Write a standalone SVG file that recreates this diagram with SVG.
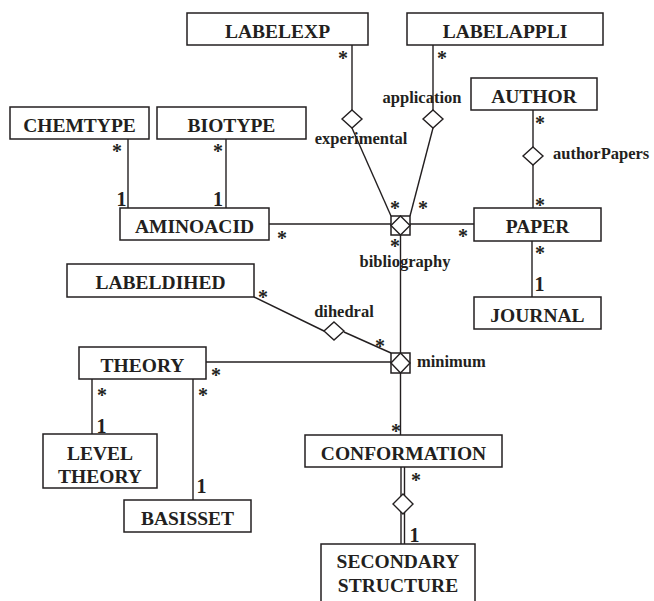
<svg xmlns="http://www.w3.org/2000/svg" width="654" height="601" viewBox="0 0 654 601">
<style>
.box{fill:#fff;stroke:#231f20;stroke-width:1.5}
.bt{font-family:"Liberation Serif","Times New Roman",serif;font-weight:bold;font-size:19.5px;fill:#231f20;text-anchor:middle}
.ln{fill:none;stroke:#231f20;stroke-width:1.4}
.dm{fill:#fff;stroke:#231f20;stroke-width:1.4}
.lb{font-family:"Liberation Serif","Times New Roman",serif;font-weight:bold;font-size:16.5px;fill:#231f20}
.m{font-family:"Liberation Serif","Times New Roman",serif;font-weight:bold;font-size:20px;fill:#231f20;text-anchor:middle}
.one{font-family:"Liberation Serif","Times New Roman",serif;font-weight:bold;font-size:20px;fill:#231f20;text-anchor:middle}
</style>
<rect width="654" height="601" fill="#fff"/>
<g id="connectors">
<line class="ln" x1="128" y1="139" x2="128" y2="208"/>
<line class="ln" x1="226" y1="139" x2="226" y2="208"/>
<line class="ln" x1="269" y1="224" x2="391" y2="224"/>
<line class="ln" x1="352" y1="45" x2="352" y2="110"/>
<line class="ln" x1="352" y1="128" x2="391" y2="216"/>
<line class="ln" x1="433" y1="45" x2="433" y2="110"/>
<line class="ln" x1="433" y1="128" x2="410" y2="216"/>
<line class="ln" x1="533" y1="110" x2="533" y2="147"/>
<line class="ln" x1="533" y1="165" x2="533" y2="208"/>
<line class="ln" x1="410" y1="224" x2="474" y2="224"/>
<line class="ln" x1="532" y1="241" x2="532" y2="297"/>
<line class="ln" x1="400.5" y1="235" x2="400.5" y2="353"/>
<line class="ln" x1="254" y1="297" x2="324" y2="331"/>
<line class="ln" x1="344" y1="332" x2="391" y2="353"/>
<line class="ln" x1="206" y1="362" x2="391" y2="362"/>
<line class="ln" x1="400.5" y1="373" x2="400.5" y2="435"/>
<line class="ln" x1="92" y1="379" x2="92" y2="434"/>
<line class="ln" x1="193" y1="379" x2="193" y2="500"/>
<line class="ln" x1="401" y1="467" x2="401" y2="496"/>
<line class="ln" x1="404.5" y1="467" x2="404.5" y2="496"/>
<line class="ln" x1="401" y1="512" x2="401" y2="544"/>
<line class="ln" x1="404.5" y1="512" x2="404.5" y2="544"/>
<polygon class="dm" points="352,110 362,119 352,128 342,119"/>
<polygon class="dm" points="433,110 443,119 433,128 423,119"/>
<polygon class="dm" points="533,147 543,156 533,165 523,156"/>
<polygon class="dm" points="334,322 344,331 334,340 324,331"/>
<polygon class="dm" points="403,494 413,504 403,514 393,504"/>
<g id="bibliography">
<rect class="box" x="391" y="216" width="19" height="19"/>
<polygon class="dm" points="400.5,216 410,225.5 400.5,235 391,225.5"/>
</g>
<g id="minimum">
<rect class="box" x="391" y="353" width="19" height="20"/>
<polygon class="dm" points="400.5,353 410,363 400.5,373 391,363"/>
</g>
<text class="lb" x="361" y="144" text-anchor="middle">experimental</text>
<text class="lb" x="422" y="103" text-anchor="middle">application</text>
<text class="lb" x="553" y="159">authorPapers</text>
<text class="lb" x="405" y="267" text-anchor="middle">bibliography</text>
<text class="lb" x="344" y="317" text-anchor="middle">dihedral</text>
<text class="lb" x="417" y="367">minimum</text>
<text class="m" x="343" y="65">*</text>
<text class="m" x="442" y="65">*</text>
<text class="m" x="540" y="130">*</text>
<text class="m" x="540" y="212">*</text>
<text class="m" x="395" y="215">*</text>
<text class="m" x="423" y="215">*</text>
<text class="m" x="395" y="253">*</text>
<text class="m" x="463" y="243">*</text>
<text class="m" x="540" y="260">*</text>
<text class="m" x="117" y="158">*</text>
<text class="m" x="218" y="158">*</text>
<text class="m" x="282" y="245">*</text>
<text class="m" x="263" y="304">*</text>
<text class="m" x="216" y="382">*</text>
<text class="m" x="102" y="402">*</text>
<text class="m" x="203" y="402">*</text>
<text class="m" x="380" y="353">*</text>
<text class="m" x="396" y="438">*</text>
<text class="m" x="416" y="487">*</text>
<text class="one" x="121.5" y="206">1</text>
<text class="one" x="218" y="206">1</text>
<text class="one" x="539.5" y="291">1</text>
<text class="one" x="101.5" y="433">1</text>
<text class="one" x="201.5" y="493">1</text>
<text class="one" x="414.5" y="542">1</text>
</g>
<g id="LABELEXP"><rect class="box" x="187" y="13" width="181" height="32"/><text class="bt" x="277.5" y="38">LABELEXP</text></g>
<g id="LABELAPPLI"><rect class="box" x="407" y="13" width="196" height="32"/><text class="bt" x="505" y="38">LABELAPPLI</text></g>
<g id="AUTHOR"><rect class="box" x="471" y="78" width="126" height="32"/><text class="bt" x="534" y="103">AUTHOR</text></g>
<g id="CHEMTYPE"><rect class="box" x="10" y="107" width="139" height="32"/><text class="bt" x="79.5" y="132">CHEMTYPE</text></g>
<g id="BIOTYPE"><rect class="box" x="157" y="107" width="149" height="32"/><text class="bt" x="231.5" y="132">BIOTYPE</text></g>
<g id="AMINOACID"><rect class="box" x="120" y="208" width="149" height="32"/><text class="bt" x="194.5" y="233">AMINOACID</text></g>
<g id="PAPER"><rect class="box" x="474" y="208" width="127" height="33"/><text class="bt" x="537.5" y="233">PAPER</text></g>
<g id="JOURNAL"><rect class="box" x="474" y="297" width="127" height="32"/><text class="bt" x="537.5" y="322">JOURNAL</text></g>
<g id="LABELDIHED"><rect class="box" x="67" y="264" width="187" height="33"/><text class="bt" x="160.5" y="289">LABELDIHED</text></g>
<g id="THEORY"><rect class="box" x="79" y="347" width="127" height="32"/><text class="bt" x="142.5" y="372">THEORY</text></g>
<g id="LEVELTHEORY"><rect class="box" x="43" y="434" width="114" height="54"/><text class="bt" x="100" y="460">LEVEL</text><text class="bt" x="100" y="483">THEORY</text></g>
<g id="BASISSET"><rect class="box" x="124" y="500" width="127" height="32"/><text class="bt" x="187.5" y="525">BASISSET</text></g>
<g id="CONFORMATION"><rect class="box" x="305" y="435" width="197" height="32"/><text class="bt" x="403.5" y="460">CONFORMATION</text></g>
<g id="SECONDARYSTRUCTURE"><rect class="box" x="321" y="544" width="154" height="70"/><text class="bt" x="398" y="568">SECONDARY</text><text class="bt" x="398" y="592">STRUCTURE</text></g>
</svg>
